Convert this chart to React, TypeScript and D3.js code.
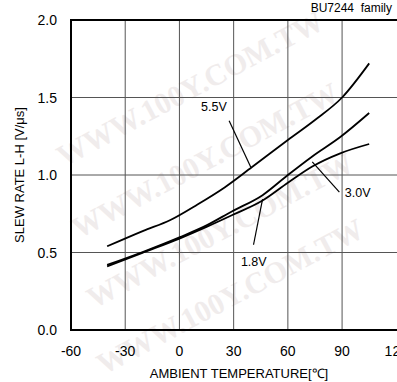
import React, { useEffect, useRef } from "react";
import * as d3 from "d3";

type Pt = { t: number; v: number };

const temps55 = [-40, -20, -5, 10, 25, 40, 60, 75, 90, 105];
const slew55 = [0.54, 0.64, 0.71, 0.81, 0.92, 1.05, 1.226, 1.355, 1.5, 1.72];
const temps30 = [-40, -20, 0, 15, 29, 46, 60, 73.5, 89, 105];
const slew30 = [0.42, 0.505, 0.598, 0.675, 0.765, 0.87, 1.0, 1.12, 1.245, 1.4];
const temps18 = [-40, -20, 0, 15, 29, 46, 60, 73.5, 89, 105];
const slew18 = [0.41, 0.5, 0.59, 0.665, 0.74, 0.835, 0.95, 1.055, 1.14, 1.2];

const xTicks = [-60, -30, 0, 30, 60, 90, 120];
const yTicks = [0, 0.5, 1.0, 1.5, 2.0];

// label text, label anchor (temp, value), pointer from/to (temp, value)
const curveLabels = [
  { text: "5.5V", tx: 12, ty: 1.41, px1: 27.5, py1: 1.35, px2: 39.5, py2: 1.05 },
  { text: "3.0V", tx: 91.5, ty: 0.855, px1: 88.5, py1: 0.89, px2: 73.5, py2: 1.085 },
  { text: "1.8V", tx: 34, ty: 0.41, px1: 41, py1: 0.55, px2: 46, py2: 0.845 },
];

const watermarks = [
  [190, 88], [205, 160], [220, 230], [230, 296],
];

const W = 397;
const H = 382;

export default function App() {
  const ref = useRef<SVGSVGElement>(null);

  useEffect(() => {
    const svg = d3.select(ref.current);
    svg.selectAll("*").remove();

    const x = d3.scaleLinear().domain([-60, 120]).range([71, 396.3]);
    const y = d3.scaleLinear().domain([0, 2]).range([330, 20]);
    const font = "'Liberation Sans', Arial, sans-serif";

    // watermark
    svg.append("g")
      .selectAll("text")
      .data(watermarks)
      .enter()
      .append("text")
      .attr("transform", d => `translate(${d[0]},${d[1]}) rotate(-28)`)
      .attr("text-anchor", "middle")
      .attr("dominant-baseline", "central")
      .attr("font-family", "'Liberation Serif', 'DejaVu Serif', serif")
      .attr("font-weight", "bold")
      .attr("font-size", 30)
      .attr("fill", "#f0ecec")
      .text("WWW.100Y.COM.TW");

    // grid
    svg.append("g")
      .selectAll("line")
      .data(xTicks.slice(1, -1))
      .enter()
      .append("line")
      .attr("x1", d => x(d)).attr("x2", d => x(d))
      .attr("y1", y(0)).attr("y2", y(2))
      .attr("stroke", "#555").attr("stroke-width", 1);
    svg.append("g")
      .selectAll("line")
      .data(yTicks.slice(1, -1))
      .enter()
      .append("line")
      .attr("x1", x(-60)).attr("x2", W)
      .attr("y1", d => y(d)).attr("y2", d => y(d))
      .attr("stroke", "#555").attr("stroke-width", 1);

    // frame
    svg.append("path")
      .attr("d", `M${W},${y(2)}H${x(-60)}V${y(0)}H${W}`)
      .attr("fill", "none").attr("stroke", "#000").attr("stroke-width", 2);

    // tick labels
    svg.append("g")
      .selectAll("text")
      .data(xTicks)
      .enter()
      .append("text")
      .attr("x", d => x(d)).attr("y", 356)
      .attr("text-anchor", "middle")
      .attr("font-family", font).attr("font-size", 14)
      .text(d => d);
    svg.append("g")
      .selectAll("text")
      .data(yTicks)
      .enter()
      .append("text")
      .attr("x", 57).attr("y", d => y(d) + 5)
      .attr("text-anchor", "end")
      .attr("font-family", font).attr("font-size", 14)
      .text(d => d.toFixed(1));

    // axis titles
    svg.append("text")
      .attr("x", 239).attr("y", 378)
      .attr("text-anchor", "middle")
      .attr("font-family", font).attr("font-size", 13)
      .text("AMBIENT TEMPERATURE[℃]");
    svg.append("text")
      .attr("transform", `translate(24,${(y(0) + y(2)) / 2}) rotate(-90)`)
      .attr("text-anchor", "middle")
      .attr("font-family", font).attr("font-size", 13)
      .text("SLEW RATE L-H [V/μs]");
    svg.append("text")
      .attr("x", 392).attr("y", 12)
      .attr("text-anchor", "end")
      .attr("font-family", font).attr("font-size", 12)
      .style("white-space", "pre")
      .text("BU7244  family");

    // curves
    const series: Pt[][] = [
      temps55.map((t, i) => ({ t, v: slew55[i] })),
      temps30.map((t, i) => ({ t, v: slew30[i] })),
      temps18.map((t, i) => ({ t, v: slew18[i] })),
    ];
    const line = d3.line<Pt>()
      .x(d => x(d.t))
      .y(d => y(d.v))
      .curve(d3.curveMonotoneX);
    svg.append("g")
      .selectAll("path")
      .data(series)
      .enter()
      .append("path")
      .attr("d", d => line(d))
      .attr("fill", "none")
      .attr("stroke", "#000")
      .attr("stroke-width", 1.8);

    // curve labels with pointers
    const lbl = svg.append("g")
      .selectAll("g")
      .data(curveLabels)
      .enter()
      .append("g");
    lbl.append("line")
      .attr("x1", d => x(d.px1)).attr("y1", d => y(d.py1))
      .attr("x2", d => x(d.px2)).attr("y2", d => y(d.py2))
      .attr("stroke", "#000").attr("stroke-width", 1.2);
    lbl.append("text")
      .attr("x", d => x(d.tx)).attr("y", d => y(d.ty))
      .attr("font-family", font).attr("font-size", 12.5)
      .text(d => d.text);
  }, []);

  return (
    <svg
      ref={ref}
      width={W}
      height={H}
      style={{ position: "absolute", left: 0, top: 0, background: "#fff" }}
    />
  );
}
